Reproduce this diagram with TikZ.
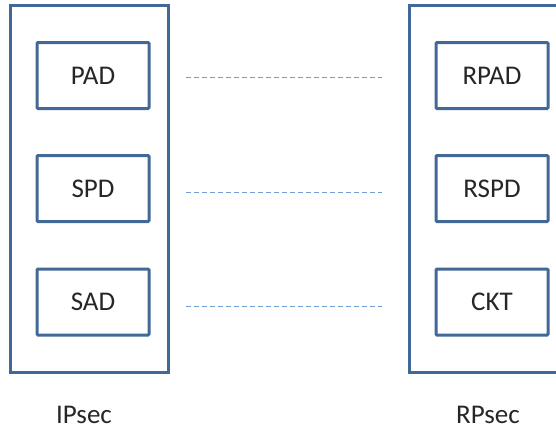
\documentclass[tikz,border=0pt]{standalone}
\usepackage{fontspec}
\setmainfont{Carlito}
\begin{document}
\begin{tikzpicture}[x=1pt,y=-1pt,
  boxc/.style={draw=boxblue,line width=3pt},
  inner/.style={boxc,rounded corners=1pt,minimum width=112pt,minimum height=66pt,inner sep=0pt,font=\fontsize{27}{31}\selectfont,text=black!85},
  link/.style={draw=linkblue,line width=1pt,dash pattern=on 5pt off 3pt},
  lbl/.style={font=\fontsize{27}{31}\selectfont,text=black!85}]
\definecolor{boxblue}{RGB}{65,104,150}
\definecolor{linkblue}{RGB}{110,155,210}
\useasboundingbox (0,0) rectangle (556,432);
\begin{scope}
\clip (0,0) rectangle (556,432);
\draw[boxc] (10,5) rectangle (168,372);
\draw[boxc] (409,5) rectangle (570,372);
\end{scope}
\node[inner] (PAD) at (93,75.5) {PAD};
\node[inner] (SPD) at (93,188.5) {SPD};
\node[inner] (SAD) at (93,302) {SAD};
\node[inner] (RPAD) at (492,75.5) {RPAD};
\node[inner] (RSPD) at (492,188.5) {RSPD};
\node[inner] (CKT) at (492,302) {CKT};
\draw[link] ([xshift=35.5pt,yshift=-1.5pt]PAD.east) -- ([xshift=-53pt,yshift=-1.5pt]RPAD.west);
\draw[link] ([xshift=35.5pt,yshift=-3.5pt]SPD.east) -- ([xshift=-53pt,yshift=-3.5pt]RSPD.west);
\draw[link] ([xshift=35.5pt,yshift=-4.5pt]SAD.east) -- ([xshift=-53pt,yshift=-4.5pt]CKT.west);
\node[lbl] (ip) at (84,415) {IPsec};
\node[lbl] (rp) at (488,415) {RPsec};
\end{tikzpicture}
\end{document}
